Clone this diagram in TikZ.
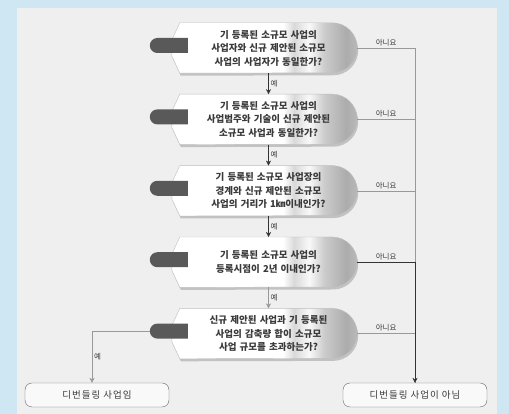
\documentclass[tikz,border=0pt]{standalone}
\usepackage{fontspec}
\setmainfont{Noto Sans CJK KR}
\usetikzlibrary{positioning,arrows.meta,shapes.misc,shadows,backgrounds,calc}

\definecolor{skyback}{HTML}{CFE7F2}
\definecolor{panelgray}{HTML}{EFEFEF}
\definecolor{inkgray}{HTML}{3A3A3A}

\pgfdeclarehorizontalshading{qshade}{100bp}{color(0bp)=(white); color(25bp)=(white); color(55bp)=(white); color(58bp)=(gray!30); color(62bp)=(white!95!gray); color(66bp)=(gray!40); color(72bp)=(gray!65); color(75bp)=(gray!55); color(100bp)=(gray!55)}

\tikzset{
  question/.style={minimum width=177pt, minimum height=50pt, text width=150pt, align=center,
    inner sep=0pt, font=\fontsize{9.5}{13.5}\selectfont\bfseries, text=inkgray},
  tabnub/.style={rounded rectangle, rounded rectangle east arc=none, fill=black!65,
    minimum width=38pt, minimum height=15pt, inner sep=0pt},
  ending/.style={draw=black!60, fill=white!60!panelgray, rounded corners=7pt,
    minimum width=144pt, minimum height=24pt,
    font=\fontsize{9.5}{11}\selectfont\addfontfeature{LetterSpace=10}, text=inkgray},
  answer/.style={font=\fontsize{7.5}{9}\selectfont, text=inkgray, inner sep=2pt},
  flow/.style={draw=black!80, -{Stealth[length=5pt,width=5pt]}},
  flowgray/.style={draw=black!40, -{Stealth[length=5pt,width=5pt]}},
  noline/.style={draw=black!40},
}

\begin{document}
\begin{tikzpicture}[x=1pt,y=1pt,node distance=21pt]
\useasboundingbox (0,0) rectangle (509,414);

% questions
\node[question] (q1) at (268.5,366) {기 등록된 소규모 사업의\\사업자와 신규 제안된 소규모\\사업의 사업자가 동일한가?};
\node[question, below=of q1] (q2) {기 등록된 소규모 사업의\\사업범주와 기술이 신규 제안된\\소규모 사업과 동일한가?};
\node[question, below=of q2] (q3) {기 등록된 소규모 사업장의\\경계와 신규 제안된 소규모\\사업의 거리가 1㎞이내인가?};
\node[question, below=of q3] (q4) {기 등록된 소규모 사업의\\등록시점이 2년 이내인가?};
\node[question, below=of q4] (q5) {신규 제안된 사업과 기 등록된\\사업의 감축량 합이 소규모\\사업 규모를 초과하는가?};

\foreach \q in {q1,q2,q3,q4,q5}
  \node[tabnub] (\q-tab) at ($(\q.west)+(-11,2.5)$) {};

% results
\node[ending] (t1) at (97,19) {디번들링 사업임};
\node[ending] (t2) at (415,19) {디번들링 사업이 아님};
\coordinate (t1-in) at ($(t1.north)+(-5,0)$);

\begin{scope}[on background layer]
  \fill[skyback] (0,0) rectangle (509,414);
  \fill[panelgray] (17,0) rectangle (497,406);
  \foreach \q in {q1,q2,q3,q4,q5}{
    \shade[shading=qshade, draw=black!25,
      drop shadow={opacity=0.4,shadow xshift=1pt,shadow yshift=-2.5pt}]
      (\q.north west) -- ($(\q.north east)+(-25,0)$) arc (90:-90:25)
      -- (\q.south west) -- ($(\q.west)+(-8,-8)$) -- ($(\q.west)+(-8,8)$) -- cycle;
  }
\end{scope}

% yes
\draw[flow] (q1) -- node[answer,right]{예} (q2);
\draw[flow] (q2) -- node[answer,right]{예} (q3);
\draw[flow] (q3) -- node[answer,right]{예} (q4);
\draw[flowgray] (q4) -- node[answer,right]{예} (q5);
\draw[flowgray] (q5-tab.west) -| node[answer,pos=0.75,right]{예} (t1-in);

% no
\foreach \q in {q1,q2,q3,q5}
  \draw[noline] (\q.east) -| node[answer,pos=0.25,above]{아니요} (t2.north);
\draw[flow] (q4.east) -| node[answer,pos=0.25,above]{아니요} (t2.north);
\end{tikzpicture}
\end{document}
